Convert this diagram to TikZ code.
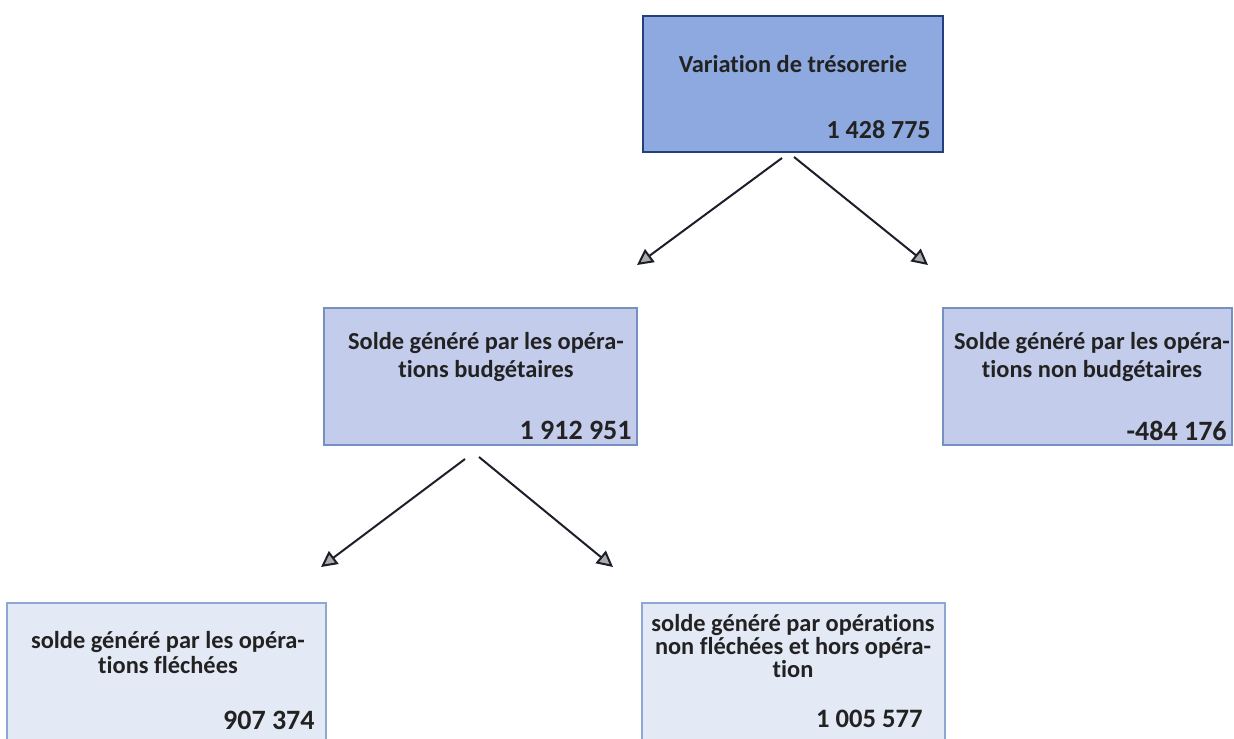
\documentclass[tikz,border=0pt]{standalone}
\usepackage{fontspec}
\setmainfont{Carlito}[Ligatures=NoCommon]
\usetikzlibrary{arrows.meta}
\definecolor{topfill}{HTML}{8DA9E0}
\definecolor{topline}{HTML}{22407F}
\definecolor{midfill}{HTML}{C4CCEC}
\definecolor{midline}{HTML}{7690C2}
\definecolor{botfill}{HTML}{E3E9F5}
\definecolor{botline}{HTML}{8FA7D3}
\definecolor{txt}{HTML}{222222}
\definecolor{arr}{HTML}{1C1F2A}
\tikzset{
  box/.style={rectangle, inner sep=0pt, line width=1.4pt},
  topbox/.style={box, draw=topline, fill=topfill},
  midbox/.style={box, draw=midline, fill=midfill},
  botbox/.style={box, draw=botline, fill=botfill},
  ttl/.style={inner sep=0pt, anchor=base, align=center, text=txt,
    font=\fontsize{12.2}{#1}\selectfont\bfseries},
  ttl/.default=14,
  num/.style={inner sep=0pt, anchor=base east, text=txt,
    font=\fontsize{#1}{16}\selectfont\bfseries},
  num/.default=14,
  flow/.style={draw=arr, line width=1pt,
    -{Triangle[length=8pt,width=8pt,fill=gray!65,line width=1pt]}}
}
\begin{document}
\begin{tikzpicture}[x=0.5pt,y=-0.5pt]
\useasboundingbox (0,0) rectangle (1234,738);
\fill[white] (0,0) rectangle (1234,738);
% boxes
\node[topbox, minimum width=150pt, minimum height=68pt] (top) at (793,84) {};
\node[midbox, minimum width=156.5pt, minimum height=68.5pt] (ml) at (480.5,376.5) {};
\node[midbox, minimum width=144.5pt, minimum height=68.5pt] (mr) at (1087.5,376.5) {};
\node[botbox, minimum width=159.5pt, minimum height=78.5pt] (bl) at (166.5,681.5) {};
\node[botbox, minimum width=151.5pt, minimum height=78.5pt] (br) at (793.5,681.5) {};
% texts (base anchor = baseline of last line)
\node[ttl] (topT) at (793,73) {Variation de trésorerie};
\node[num=13] (topN) at (931,138) {1 428 775};
\node[ttl=13.7] (mlT) at (486,377) {Solde généré par les opéra-\\tions budgétaires};
\node[num] (mlN) at (632,439) {1 912 951};
\node[ttl=14] (mrT) at (1092,377) {Solde généré par les opéra-\\tions non budgétaires};
\node[num] (mrN) at (1227,440) {-484 176};
\node[ttl=12.5] (blT) at (168,673) {solde généré par les opéra-\\tions fléchées};
\node[num] (blN) at (315,729) {907 374};
\node[ttl=11.5] (brT) at (793,677) {solde généré par opérations\\non fléchées et hors opéra-\\tion};
\node[num=13.3] (brN) at (923,727) {1 005 577};
% connector ends
\coordinate (a1s) at (782,158);
\coordinate (a1e) at (637,265);
\coordinate (a2s) at (794,157);
\coordinate (a2e) at (928,265);
\coordinate (a3s) at (465,459);
\coordinate (a3e) at (321,567);
\coordinate (a4s) at (479,457);
\coordinate (a4e) at (613,567);
\draw[flow] (a1s) -- (a1e);
\draw[flow] (a2s) -- (a2e);
\draw[flow] (a3s) -- (a3e);
\draw[flow] (a4s) -- (a4e);
\end{tikzpicture}
\end{document}
